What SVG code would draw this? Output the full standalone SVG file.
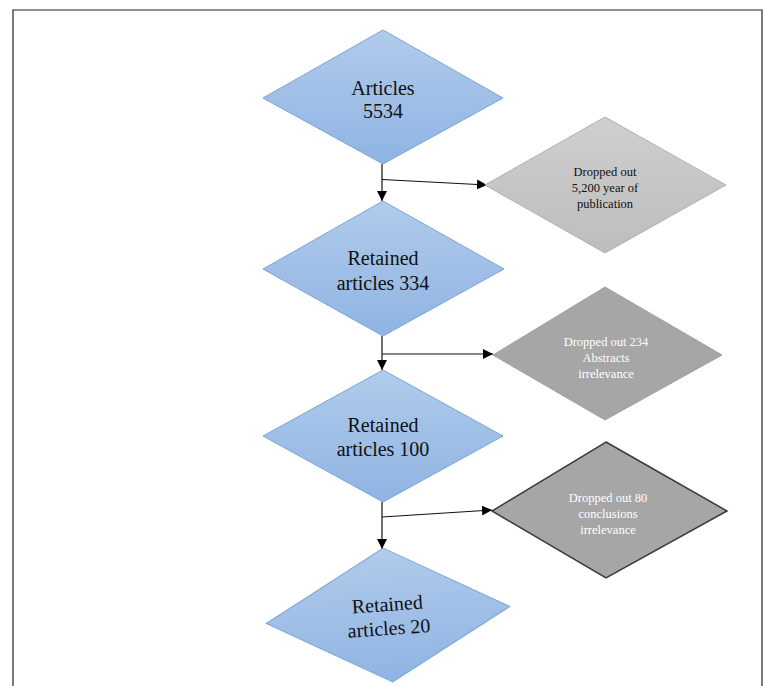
<svg xmlns="http://www.w3.org/2000/svg" width="768" height="686" viewBox="0 0 768 686">
<style>
.blue{fill:url(#gb);stroke:#7aa5d6;stroke-width:1}
.g1{fill:url(#gg);stroke:#b0b0b0;stroke-width:1}
.g2{fill:#a6a6a6;stroke:#a0a0a0;stroke-width:1}
.g3{fill:#a6a6a6;stroke:#3a3a3a;stroke-width:1.5}
.big{font-family:"Liberation Serif",serif;font-size:20px;fill:#111;text-anchor:middle}
.sm{font-family:"Liberation Serif",serif;font-size:12.5px;text-anchor:middle}
.line{stroke:#111;stroke-width:1.2;fill:none;marker-end:url(#ah)}
</style>
<defs>
<linearGradient id="gb" x1="0" y1="0" x2="0" y2="1"><stop offset="0" stop-color="#b1cbeb"/><stop offset="1" stop-color="#8fb4e3"/></linearGradient>
<linearGradient id="gg" x1="0" y1="0" x2="0" y2="1"><stop offset="0" stop-color="#cfcfcf"/><stop offset="1" stop-color="#bdbdbd"/></linearGradient>
<marker id="ah" viewBox="0 0 10 10" refX="10" refY="5" markerWidth="10" markerHeight="10" markerUnits="userSpaceOnUse" orient="auto"><path d="M0,0 L10,5 L0,10 z" fill="#000"/></marker>
</defs>
<rect width="768" height="686" fill="#fff"/>
<path d="M13,690 L13,10 L762,10 L762,690" fill="none" stroke="#222" stroke-width="1.2"/>
<g id="connectors">
<line class="line" x1="382" y1="164" x2="382" y2="201"/>
<line class="line" x1="382" y1="179.5" x2="487" y2="185"/>
<line class="line" x1="382" y1="336" x2="382" y2="370"/>
<line class="line" x1="382" y1="354" x2="493" y2="354"/>
<line class="line" x1="382" y1="502" x2="382" y2="549"/>
<line class="line" x1="382" y1="517" x2="492" y2="510"/>
</g>
<g id="n1">
<polygon class="blue" points="383,30 503,98 383,164 263,98"/>
<text class="big" x="383" y="95">Articles</text>
<text class="big" x="383" y="118">5534</text>
</g>
<g id="d1">
<polygon class="g1" points="605,117 726,185 605,253 485,185"/>
<text class="sm" x="605" y="176" fill="#111">Dropped out</text>
<text class="sm" x="605" y="192" fill="#111">5,200 year of</text>
<text class="sm" x="605" y="208" fill="#111">publication</text>
</g>
<g id="n2">
<polygon class="blue" points="383,201 504,269 383,336 263,269"/>
<text class="big" x="383" y="265">Retained</text>
<text class="big" x="383" y="290">articles 334</text>
</g>
<g id="d2">
<polygon class="g2" points="605,287 722,355 605,420 493,355"/>
<text class="sm" x="606" y="346" fill="#fff">Dropped out 234</text>
<text class="sm" x="606" y="362" fill="#fff">Abstracts</text>
<text class="sm" x="606" y="378" fill="#fff">irrelevance</text>
</g>
<g id="n3">
<polygon class="blue" points="383,370 503,436 383,502 263,436"/>
<text class="big" x="383" y="432">Retained</text>
<text class="big" x="383" y="456">articles 100</text>
</g>
<g id="d3">
<polygon class="g3" points="606,442 727,511 606,578 492,511"/>
<text class="sm" x="608" y="502" fill="#fff">Dropped out 80</text>
<text class="sm" x="608" y="518" fill="#fff">conclusions</text>
<text class="sm" x="608" y="534" fill="#fff">irrelevance</text>
</g>
<g id="n4" transform="rotate(-4 388 615)">
<polygon class="blue" points="388,548 510,615 388,682 266,615"/>
<text class="big" x="388" y="611">Retained</text>
<text class="big" x="388" y="635">articles 20</text>
</g>
</svg>
